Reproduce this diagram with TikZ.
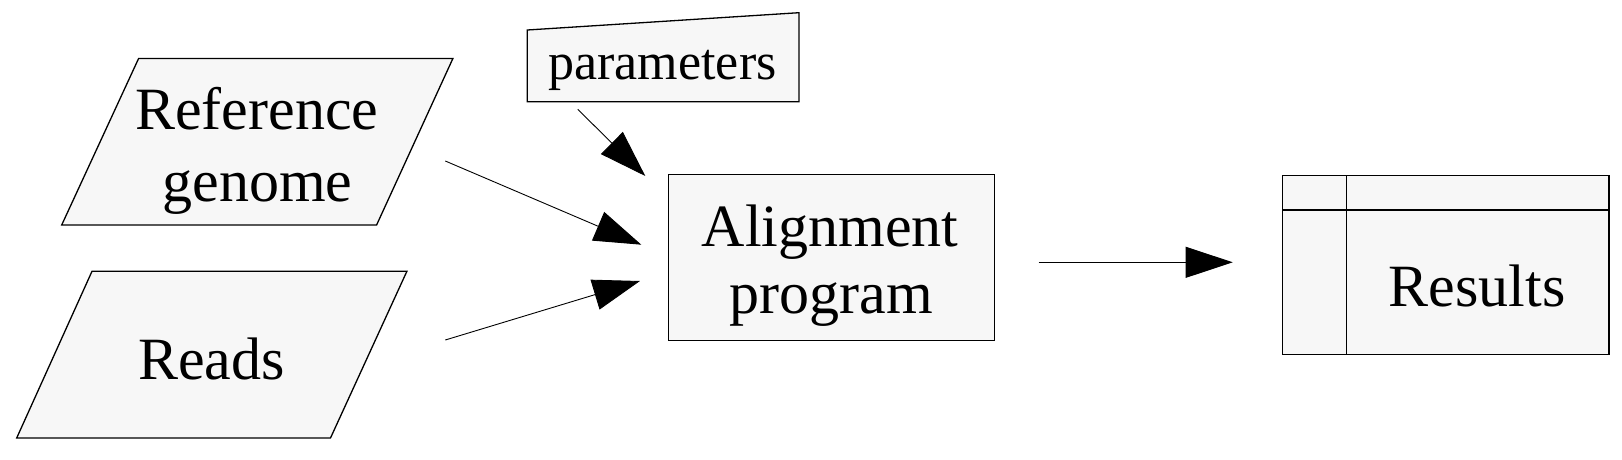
\documentclass[tikz,border=0pt]{standalone}
\usepackage{fontspec}
\setmainfont{Liberation Serif}
\usetikzlibrary{arrows.meta}
\definecolor{boxfill}{HTML}{F7F7F7}
\tikzset{
  shapebox/.style={draw=black, fill=boxfill, line width=0.65pt, line join=miter},
  bigtext/.style={font=\fontsize{30}{36}\selectfont, inner sep=0pt, anchor=base},
  smalltext/.style={font=\fontsize{26}{31}\selectfont, inner sep=0pt, anchor=base},
  flow/.style={line width=0.45pt, -{Triangle[length=23.5pt, width=15.5pt]}},
}
\begin{document}
\begin{tikzpicture}[x=0.5pt, y=-0.5pt]
\useasboundingbox (0,0) rectangle (1622,460);
% shapes
\path[shapebox] (138.6,58.5) -- (452.9,58.5) -- (376.6,225) -- (61.7,225) -- cycle;
\path[shapebox] (92,271.3) -- (406.9,271.3) -- (330.5,438) -- (16.7,438) -- cycle;
\path[shapebox] (527.3,30) -- (799,12.7) -- (799,101.7) -- (527.3,101.7) -- cycle;
\path[shapebox] (668.3,174.7) rectangle (994.3,340.7);
\path[shapebox] (1282.3,175.7) rectangle (1609,354.3);
\draw[line width=0.65pt] (1282.3,210) -- (1609,210);
\draw[line width=0.65pt] (1346.3,175.7) -- (1346.3,354.3);
% texts
\node[bigtext] (refA) at (256.7,129.3) {Reference};
\node[bigtext] (refB) at (257.6,201.7) {genome};
\node[bigtext] (reads) at (211.5,379.5) {Reads};
\node[smalltext] (params) at (662.5,80) {parameters};
\node[bigtext] (alignA) at (830.2,246) {Alignment};
\node[bigtext] (alignB) at (831.6,313.3) {program};
\node[bigtext] (results) at (1477,306.7) {Results};
% connector end points
\coordinate (refout) at (445.3,161);
\coordinate (readsout) at (445.3,340);
\coordinate (paramsout) at (577.7,109.3);
\coordinate (alignout) at (1038.5,262.3);
\coordinate (alignin1) at (641.3,244.7);
\coordinate (alignin2) at (640,281);
\coordinate (alignin0) at (645.3,176);
\coordinate (resultsin) at (1232.7,262.3);
% connectors
\draw[flow] (refout) -- (alignin1);
\draw[flow] (readsout) -- (alignin2);
\draw[flow] (paramsout) -- (alignin0);
\draw[flow] (alignout) -- (resultsin);
\end{tikzpicture}
\end{document}
